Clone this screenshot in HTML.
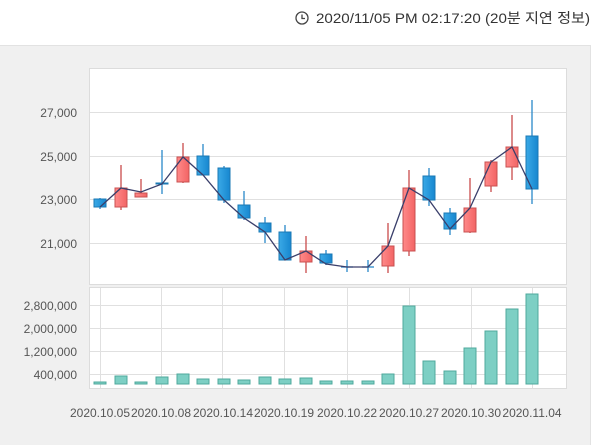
<!DOCTYPE html>
<html><head><meta charset="utf-8"><style>
html,body{margin:0;padding:0;width:600px;height:445px;overflow:hidden;background:#fff;}
svg{display:block;font-family:"Liberation Sans","Noto Sans CJK KR",sans-serif;}
</style></head><body>
<svg width="600" height="445" viewBox="0 0 600 445">
<defs>
<linearGradient id="rg" x1="0" x2="1"><stop offset="0" stop-color="#ff8a8a"/><stop offset="1" stop-color="#f26464"/></linearGradient>
<linearGradient id="bg" x1="0" x2="1"><stop offset="0" stop-color="#3aa9e6"/><stop offset="1" stop-color="#1787d0"/></linearGradient>
</defs>
<rect x="0" y="45" width="590" height="400" fill="#f0f0f0"/>
<line x1="0" y1="45.5" x2="590" y2="45.5" stroke="#e2e2e2"/>
<line x1="590.5" y1="45" x2="590.5" y2="445" stroke="#e2e2e2"/>
<g fill="#333" font-size="14">
<circle cx="302" cy="18" r="6" fill="none" stroke="#444" stroke-width="1.3"/>
<path d="M302 14.5V18.5H305" fill="none" stroke="#444" stroke-width="1.3"/>
<text x="316" y="23" textLength="274" lengthAdjust="spacingAndGlyphs">2020/11/05 PM 02:17:20 (20분 지연 정보)</text>
</g>
<rect x="89.5" y="68.5" width="477" height="216" fill="#fff" stroke="#dcdcdc"/>
<rect x="89.5" y="287.5" width="477" height="101" fill="#fff" stroke="#dcdcdc"/>
<g stroke="#e0e0e0" stroke-width="1">
<line x1="90" y1="112.5" x2="566" y2="112.5"/><line x1="90" y1="156.5" x2="566" y2="156.5"/>
<line x1="90" y1="199.5" x2="566" y2="199.5"/><line x1="90" y1="243.5" x2="566" y2="243.5"/>
<line x1="90" y1="305.5" x2="566" y2="305.5"/><line x1="90" y1="328.5" x2="566" y2="328.5"/>
<line x1="90" y1="351.5" x2="566" y2="351.5"/><line x1="90" y1="374.5" x2="566" y2="374.5"/>
<g>
<line x1="100.5" y1="288" x2="100.5" y2="388"/><line x1="161.5" y1="288" x2="161.5" y2="388"/>
<line x1="222.5" y1="288" x2="222.5" y2="388"/><line x1="284.5" y1="288" x2="284.5" y2="388"/>
<line x1="347.5" y1="288" x2="347.5" y2="388"/><line x1="409.5" y1="288" x2="409.5" y2="388"/>
<line x1="471.5" y1="288" x2="471.5" y2="388"/><line x1="532.5" y1="288" x2="532.5" y2="388"/>
</g>
</g>
<g fill="#555" font-size="12" text-anchor="end">
<text x="77" y="117">27,000</text><text x="77" y="161">25,000</text>
<text x="77" y="204">23,000</text><text x="77" y="248">21,000</text>
<text x="77" y="310">2,800,000</text><text x="77" y="333">2,000,000</text>
<text x="77" y="356">1,200,000</text><text x="77" y="379">400,000</text>
</g>
<g fill="#555" font-size="12" text-anchor="middle">
<text x="100" y="417">2020.10.05</text><text x="161" y="417">2020.10.08</text>
<text x="223" y="417">2020.10.14</text><text x="284" y="417">2020.10.19</text>
<text x="347" y="417">2020.10.22</text><text x="409" y="417">2020.10.27</text>
<text x="471" y="417">2020.10.30</text><text x="532" y="417">2020.11.04</text>
</g>
<g stroke-width="1.3">
<line x1="100" y1="198" x2="100" y2="209" stroke="#2a88c8"/>
<line x1="121" y1="165" x2="121" y2="210" stroke="#c84c4c"/>
<line x1="141" y1="179" x2="141" y2="197" stroke="#c84c4c"/>
<line x1="162" y1="150" x2="162" y2="194" stroke="#2a88c8"/>
<line x1="183" y1="143" x2="183" y2="183" stroke="#c84c4c"/>
<line x1="203" y1="144" x2="203" y2="175" stroke="#2a88c8"/>
<line x1="224" y1="166" x2="224" y2="203" stroke="#2a88c8"/>
<line x1="244" y1="191" x2="244" y2="220" stroke="#2a88c8"/>
<line x1="265" y1="217" x2="265" y2="243" stroke="#2a88c8"/>
<line x1="285" y1="225" x2="285" y2="260" stroke="#2a88c8"/>
<line x1="306" y1="236" x2="306" y2="273" stroke="#c84c4c"/>
<line x1="326" y1="250" x2="326" y2="265" stroke="#2a88c8"/>
<line x1="347" y1="260" x2="347" y2="272" stroke="#2a88c8"/>
<line x1="368" y1="260" x2="368" y2="272" stroke="#2a88c8"/>
<line x1="388" y1="223" x2="388" y2="273" stroke="#c84c4c"/>
<line x1="409" y1="170" x2="409" y2="256" stroke="#c84c4c"/>
<line x1="429" y1="168" x2="429" y2="206" stroke="#2a88c8"/>
<line x1="450" y1="208" x2="450" y2="235" stroke="#2a88c8"/>
<line x1="470" y1="178" x2="470" y2="233" stroke="#c84c4c"/>
<line x1="491" y1="160" x2="491" y2="192" stroke="#c84c4c"/>
<line x1="512" y1="115" x2="512" y2="180" stroke="#c84c4c"/>
<line x1="532" y1="100" x2="532" y2="204" stroke="#2a88c8"/>
<line x1="341" y1="267" x2="353" y2="267" stroke="#2a88c8"/>
<line x1="362" y1="267" x2="374" y2="267" stroke="#2a88c8"/>
</g>
<g stroke-width="1">
<rect x="94" y="199" width="12" height="8" fill="url(#bg)" stroke="#1a78b4"/>
<rect x="115" y="188" width="12" height="19" fill="url(#rg)" stroke="#c85050"/>
<rect x="135" y="193" width="12" height="4" fill="url(#rg)" stroke="#c85050"/>
<rect x="156" y="183" width="12" height="1" fill="url(#bg)" stroke="#1a78b4"/>
<rect x="177" y="157" width="12" height="25" fill="url(#rg)" stroke="#c85050"/>
<rect x="197" y="156" width="12" height="19" fill="url(#bg)" stroke="#1a78b4"/>
<rect x="218" y="168" width="12" height="32" fill="url(#bg)" stroke="#1a78b4"/>
<rect x="238" y="205" width="12" height="13" fill="url(#bg)" stroke="#1a78b4"/>
<rect x="259" y="223" width="12" height="9" fill="url(#bg)" stroke="#1a78b4"/>
<rect x="279" y="232" width="12" height="28" fill="url(#bg)" stroke="#1a78b4"/>
<rect x="300" y="251" width="12" height="11" fill="url(#rg)" stroke="#c85050"/>
<rect x="320" y="254" width="12" height="9" fill="url(#bg)" stroke="#1a78b4"/>
<rect x="382" y="246" width="12" height="20" fill="url(#rg)" stroke="#c85050"/>
<rect x="403" y="188" width="12" height="63" fill="url(#rg)" stroke="#c85050"/>
<rect x="423" y="176" width="12" height="24" fill="url(#bg)" stroke="#1a78b4"/>
<rect x="444" y="213" width="12" height="16" fill="url(#bg)" stroke="#1a78b4"/>
<rect x="464" y="208" width="12" height="24" fill="url(#rg)" stroke="#c85050"/>
<rect x="485" y="162" width="12" height="24" fill="url(#rg)" stroke="#c85050"/>
<rect x="506" y="147" width="12" height="20" fill="url(#rg)" stroke="#c85050"/>
<rect x="526" y="136" width="12" height="53" fill="url(#bg)" stroke="#1a78b4"/>
</g>
<polyline fill="none" stroke="#3a3f6b" stroke-width="1.3" points="100,207 121,188 141,192 162,184 183,157 203,175 224,200 244,218 265,232 285,260 306,251 326,264 347,267 368,267 388,246 409,188 429,200 450,229 470,208 491,162 512,147 532,189"/>
<g fill="#7dcfc4" stroke="#4fa89c" stroke-width="1">
<rect x="94" y="382" width="12" height="2"/><rect x="115" y="376" width="12" height="8"/>
<rect x="135" y="382" width="12" height="2"/><rect x="156" y="377" width="12" height="7"/>
<rect x="177" y="374" width="12" height="10"/><rect x="197" y="379" width="12" height="5"/>
<rect x="218" y="379" width="12" height="5"/><rect x="238" y="380" width="12" height="4"/>
<rect x="259" y="377" width="12" height="7"/><rect x="279" y="379" width="12" height="5"/>
<rect x="300" y="378" width="12" height="6"/><rect x="320" y="381" width="12" height="3"/>
<rect x="341" y="381" width="12" height="3"/><rect x="362" y="381" width="12" height="3"/>
<rect x="382" y="374" width="12" height="10"/><rect x="403" y="306" width="12" height="78"/>
<rect x="423" y="361" width="12" height="23"/><rect x="444" y="371" width="12" height="13"/>
<rect x="464" y="348" width="12" height="36"/><rect x="485" y="331" width="12" height="53"/>
<rect x="506" y="309" width="12" height="75"/><rect x="526" y="294" width="12" height="90"/>
</g>
</svg>
</body></html>
